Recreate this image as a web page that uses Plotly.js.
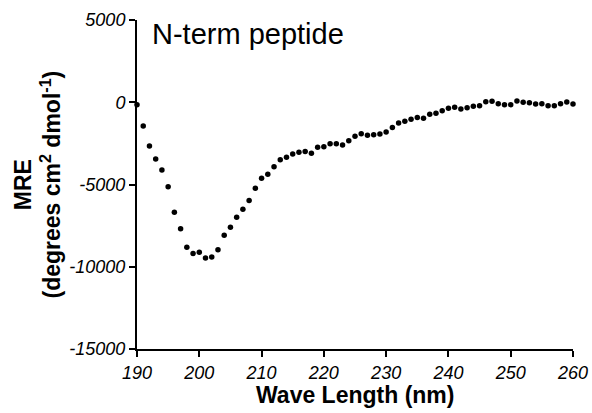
<!DOCTYPE html>
<html>
<head>
<meta charset="utf-8">
<script src="https://cdn.plot.ly/plotly-3.0.1.min.js"></script>
<style>html,body{margin:0;padding:0;background:#fff;}#chart{width:592px;height:413px;}</style>
</head>
<body>
<div id="chart"></div>
<script>
const wavelength = [190,191,192,193,194,195,196,197,198,199,200,201,202,203,204,205,206,207,208,209,
  210,211,212,213,214,215,216,217,218,219,220,221,222,223,224,225,226,227,228,229,
  230,231,232,233,234,235,236,237,238,239,240,241,242,243,244,245,246,247,248,249,
  250,251,252,253,254,255,256,257,258,259,260];
const mre = [-150,-1440,-2660,-3450,-4120,-5130,-6690,-7690,-8820,-9200,-9120,-9470,-9410,-8960,-8090,-7600,-6990,-6510,-5980,-5230,
  -4620,-4380,-3920,-3490,-3350,-3150,-3040,-3000,-3100,-2740,-2700,-2520,-2520,-2600,-2340,-2070,-1910,-2010,-1970,-1930,
  -1810,-1540,-1260,-1160,-1040,-920,-980,-730,-670,-510,-370,-310,-410,-330,-250,-210,30,60,-90,-150,
  -150,80,0,-30,-110,-90,-210,-210,-90,15,-110];
const xTickVals = [190,200,210,220,230,240,250,260];
const xTickText = ["190","200","210","220","230","240","250","260"];
const yTickVals = [5000,0,-5000,-10000,-15000];
const yTickText = ["5000","0","-5000","-10000","-15000"];
const chartTitle = "N-term peptide";
const xTitle = "Wave Length (nm)";
const yTitle = "MRE<br>(degrees cm<sup>2</sup> dmol<sup>-1</sup>)";

const fam = "Liberation Sans, Arial, sans-serif";
const trace = {
  x: wavelength, y: mre, type: 'scatter', mode: 'markers',
  marker: {color: '#000', size: 5.5}, cliponaxis: false, hoverinfo: 'none'
};
const axisCommon = {
  showline: true, linecolor: '#000', linewidth: 2, ticks: 'outside', ticklen: 6, tickwidth: 2,
  tickcolor: '#000', showgrid: false, zeroline: false, tickmode: 'array',
  tickfont: {family: fam, size: 18, style: 'italic', color: '#000'}
};
const layout = {
  width: 592, height: 413,
  margin: {l: 137, r: 19, t: 20, b: 64},
  paper_bgcolor: '#fff', plot_bgcolor: '#fff',
  showlegend: false,
  xaxis: Object.assign({}, axisCommon, {range: [190, 260], tickvals: xTickVals, ticktext: xTickText}),
  yaxis: Object.assign({}, axisCommon, {range: [-15000, 5000], tickvals: yTickVals, ticktext: yTickText}),
  annotations: [
    {text: chartTitle, xref: 'paper', yref: 'paper', x: 0.03, y: 1, xanchor: 'left', yanchor: 'top',
     yshift: 4, showarrow: false, font: {family: fam, size: 29, color: '#000'}},
    {text: xTitle, xref: 'paper', yref: 'paper', x: 0.5, y: 0, xanchor: 'center', yanchor: 'top',
     yshift: -31, showarrow: false, font: {family: fam, size: 23, color: '#000', weight: 'bold'}},
    {text: yTitle, xref: 'paper', yref: 'paper', x: 0, y: 0.5, xanchor: 'center', yanchor: 'middle',
     xshift: -100, textangle: -90, showarrow: false, font: {family: fam, size: 23, color: '#000', weight: 'bold'}}
  ]
};
Plotly.newPlot('chart', [trace], layout, {staticPlot: true});
</script>
</body>
</html>
